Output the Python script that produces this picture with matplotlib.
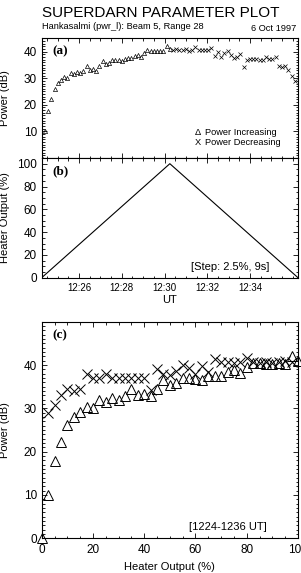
import numpy as np
import matplotlib
matplotlib.use("Agg")
import matplotlib.pyplot as plt
from matplotlib.ticker import MultipleLocator, FixedLocator, FuncFormatter

# ── Data ──────────────────────────────────────────────────
STEP_PCT = 2.5                      # heater step (%)
STEP_SEC = 9                        # seconds per step
T_START = 12*3600 + 24*60 + 15      # ramp start, 12:24:15 UT (s)

heater_up = np.arange(0, 100 + STEP_PCT/2, STEP_PCT)             # 0 .. 100
heater_down = np.arange(100 - STEP_PCT, STEP_PCT/2, -STEP_PCT)   # 97.5 .. 2.5

power_up = [0.0, 10.0, 17.8, 22.3, 26.1, 28.1, 29.2, 30.4, 30.0, 32.0,
            31.5, 32.3, 32.0, 32.8, 34.5, 33.0, 33.4, 32.8, 34.4, 36.6,
            35.4, 35.8, 36.9, 36.9, 36.8, 36.6, 37.4, 37.5, 37.5, 38.4,
            38.9, 38.1, 39.6, 40.5, 40.4, 40.2, 40.3, 40.4, 40.2, 42.0,
            40.9]
# time order: heater 97.5 -> 2.5
power_down = [40.7, 40.9, 40.6, 40.5, 40.8, 40.4, 40.6, 41.7, 40.7, 40.5,
              40.7, 40.7, 41.3, 38.4, 39.8, 37.9, 39.4, 40.1, 38.6, 37.7,
              37.9, 39.1, 34.3, 36.9, 37.1, 37.1, 37.1, 36.9, 36.9, 37.9,
              37.1, 37.1, 37.9, 34.4, 34.1, 34.4, 33.0, 30.8, 28.9]

ut_ticks = ["12:26", "12:28", "12:30", "12:32", "12:34"]

time_up = T_START + STEP_SEC*np.arange(len(heater_up))
time_down = time_up[-1] + STEP_SEC*np.arange(1, len(heater_down) + 1)
ramp_t = np.concatenate([time_up, time_down, [time_down[-1] + STEP_SEC]])
ramp_h = np.concatenate([heater_up, heater_down, [0]])

def to_sec(s):
    h, m = s.split(":")
    return int(h)*3600 + int(m)*60

ut_pos = [to_sec(s) for s in ut_ticks]

# ── Style ─────────────────────────────────────────────────
plt.rcParams['font.family'] = ['Liberation Sans', 'DejaVu Sans']
plt.rcParams['font.size'] = 8

W, H = 301, 573
fig = plt.figure(figsize=(W/100, H/100), dpi=100)

def box(l, t, r, b):
    return [l/W, 1 - b/H, (r - l)/W, (b - t)/H]

def style(ax):
    ax.tick_params(which='both', direction='in', top=True, right=True, width=0.6)
    ax.tick_params(which='major', length=3.6, labelsize=8.5)
    ax.tick_params(which='minor', length=1.8)
    for s in ax.spines.values():
        s.set_linewidth(0.8)

def panel_label(ax, txt, y):
    ax.text(0.04, y, txt, transform=ax.transAxes, family='Liberation Serif',
            fontweight='bold', fontsize=9.5, va='center', ha='left')

def time_axis(ax):
    ax.set_xlim(T_START, T_START + 80*STEP_SEC)
    ax.xaxis.set_major_locator(FixedLocator(ut_pos))
    ax.xaxis.set_minor_locator(MultipleLocator(30))

# ── (a) power vs time ─────────────────────────────────────
ax1 = fig.add_axes(box(41.7, 38.3, 298, 158))
ax1.plot(time_up, power_up, ls='none', marker='^', ms=3, mfc='none', mec='k', mew=0.5)
ax1.plot(time_down, power_down, ls='none', marker='x', ms=3, mec='k', mew=0.5)
time_axis(ax1)
ax1.set_ylim(0, 45)
ax1.set_yticks([10, 20, 30, 40])
ax1.yaxis.set_minor_locator(MultipleLocator(1))
style(ax1)
ax1.tick_params(labelbottom=False)
ax1.set_ylabel('Power (dB)', fontsize=8)
ax1.yaxis.set_label_coords(-0.124, 0.5)
panel_label(ax1, '(a)', 0.894)
ax1.text(0.598, 0.211, '\u0394', transform=ax1.transAxes, fontsize=6.7, va='center')
ax1.text(0.637, 0.211, 'Power Increasing', transform=ax1.transAxes, fontsize=6.7, va='center')
ax1.text(0.598, 0.131, 'X', transform=ax1.transAxes, fontsize=6.7, va='center')
ax1.text(0.637, 0.131, 'Power Decreasing', transform=ax1.transAxes, fontsize=6.7, va='center')

# ── (b) heater output vs time ─────────────────────────────
ax2 = fig.add_axes(box(41.7, 158, 298, 277.7))
ax2.plot(ramp_t, ramp_h, color='k', lw=0.8)
time_axis(ax2)
ax2.set_xticklabels(ut_ticks)
ax2.set_ylim(0, 105)
ax2.yaxis.set_major_locator(MultipleLocator(20))
ax2.yaxis.set_minor_locator(MultipleLocator(5))
style(ax2)
ax2.tick_params(axis='x', labelsize=7, pad=4)
ax2.set_ylabel('Heater Output (%)', fontsize=8)
ax2.yaxis.set_label_coords(-0.124, 0.5)
ax2.set_xlabel('UT', fontsize=8)
ax2.xaxis.set_label_coords(0.5, -0.186)
ax2.xaxis.label.set_va('center')
panel_label(ax2, '(b)', 0.891)
ax2.text(0.887, 0.089, '[Step: 2.5%, 9s]', transform=ax2.transAxes,
         fontsize=8, ha='right', va='center')

# ── (c) power vs heater output ────────────────────────────
ax3 = fig.add_axes(box(41.7, 321.7, 298, 538.3))
ax3.plot(heater_up, power_up, ls='none', marker='^', ms=7, mfc='none', mec='k',
         mew=0.7, clip_on=False)
ax3.plot(heater_down, power_down, ls='none', marker='x', ms=7, mec='k', mew=0.7)
ax3.set_xlim(0, 100)
ax3.set_ylim(0, 50)
ax3.xaxis.set_major_locator(MultipleLocator(20))
ax3.xaxis.set_minor_locator(MultipleLocator(5))
ax3.set_yticks([0, 10, 20, 30, 40])
ax3.yaxis.set_minor_locator(MultipleLocator(1))
style(ax3)
ax3.tick_params(axis='x', pad=4)
ax3.set_ylabel('Power (dB)', fontsize=8)
ax3.yaxis.set_label_coords(-0.124, 0.5)
ax3.set_xlabel('Heater Output (%)', fontsize=8)
ax3.xaxis.set_label_coords(0.5, -0.131)
ax3.xaxis.label.set_va('center')
panel_label(ax3, '(c)', 0.9386)
ax3.text(0.879, 0.052, '[1224-1236 UT]', transform=ax3.transAxes,
         fontsize=8, ha='right', va='center')

# ── Titles ────────────────────────────────────────────────
fig.text(42/W, 1 - 17.3/H, 'SUPERDARN PARAMETER PLOT', fontsize=11, va='baseline')
fig.text(41.7/W, 1 - 29.3/H, 'Hankasalmi (pwr_l): Beam 5, Range 28', fontsize=6.7,
         va='baseline')
fig.text(296.7/W, 1 - 31/H, '6 Oct 1997', fontsize=6.7, va='baseline', ha='right')

fig.savefig('out.png', dpi=100)
